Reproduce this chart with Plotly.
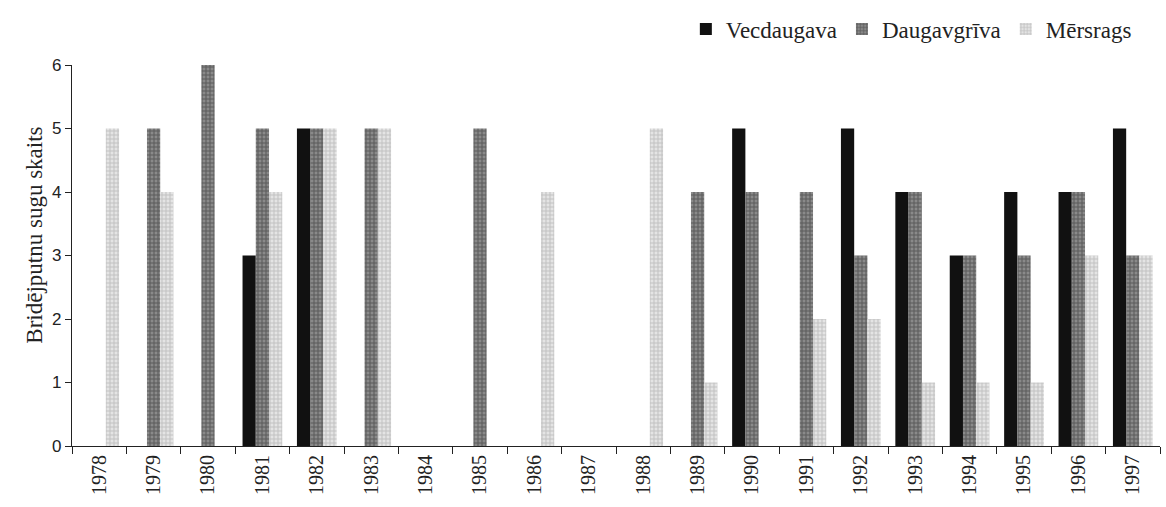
import plotly.graph_objects as go

years = ["1978", "1979", "1980", "1981", "1982", "1983", "1984", "1985", "1986", "1987",
         "1988", "1989", "1990", "1991", "1992", "1993", "1994", "1995", "1996", "1997"]
vecdaugava = [0, 0, 0, 3, 5, 0, 0, 0, 0, 0, 0, 0, 5, 0, 5, 4, 3, 4, 4, 5]
daugavgriva = [0, 5, 6, 5, 5, 5, 0, 5, 0, 0, 0, 4, 4, 4, 3, 4, 3, 3, 4, 3]
mersrags = [5, 4, 0, 4, 5, 5, 0, 0, 4, 0, 5, 1, 0, 2, 2, 1, 1, 1, 3, 3]
y_title = "Bridējputnu sugu skaits"

serif = "Liberation Serif"
sans = "Liberation Sans"

fig = go.Figure()
fig.add_bar(x=years, y=vecdaugava, name="Vecdaugava",
            marker=dict(color="#111111", line=dict(width=0)))
fig.add_bar(x=years, y=daugavgriva, name="Daugavgrīva",
            marker=dict(color="#555555", line=dict(width=0),
                        pattern=dict(shape="+", fgcolor="#2a2a2a", bgcolor="#8a8a8a",
                                     size=4, solidity=0.45)))
fig.add_bar(x=years, y=mersrags, name="Mērsrags",
            marker=dict(color="#bbbbbb", line=dict(width=0),
                        pattern=dict(shape="+", fgcolor="#a0a0a0", bgcolor="#e4e4e4",
                                     size=4, solidity=0.45)))

fig.update_layout(
    width=1166, height=507,
    margin=dict(l=72, r=6, t=65, b=61),
    paper_bgcolor="white", plot_bgcolor="white",
    barmode="group", bargap=0.27, bargroupgap=0,
    font=dict(family=serif, color="#222222"),
    legend=dict(orientation="h", xref="container", x=0.975, xanchor="right",
                yref="container", y=0.985, yanchor="top",
                font=dict(family=serif, size=23, color="#222222"),
                itemwidth=30, traceorder="normal", tracegroupgap=0),
    showlegend=True,
)

# vertical axis caption, placed slightly above the plot's middle
fig.add_annotation(text=y_title, textangle=-90, showarrow=False,
                   xref="paper", x=0, xanchor="center", xshift=-37,
                   yref="paper", y=0.552, yanchor="middle",
                   font=dict(family=serif, size=23, color="#222222"))

fig.update_xaxes(
    type="category", showgrid=False, showline=True, linecolor="#222222", linewidth=1.2,
    ticks="outside", tickson="boundaries", ticklen=7, tickcolor="#222222",
    tickangle=-90, tickfont=dict(family=serif, size=20, color="#222222"),
)
fig.update_yaxes(
    range=[0, 6], dtick=1, showgrid=False, showline=True, linecolor="#222222",
    linewidth=1.2, ticks="outside", ticklen=6, tickcolor="#222222",
    tickfont=dict(family=sans, size=17, color="#222222"), zeroline=False,
)

fig.write_html("out.html")
